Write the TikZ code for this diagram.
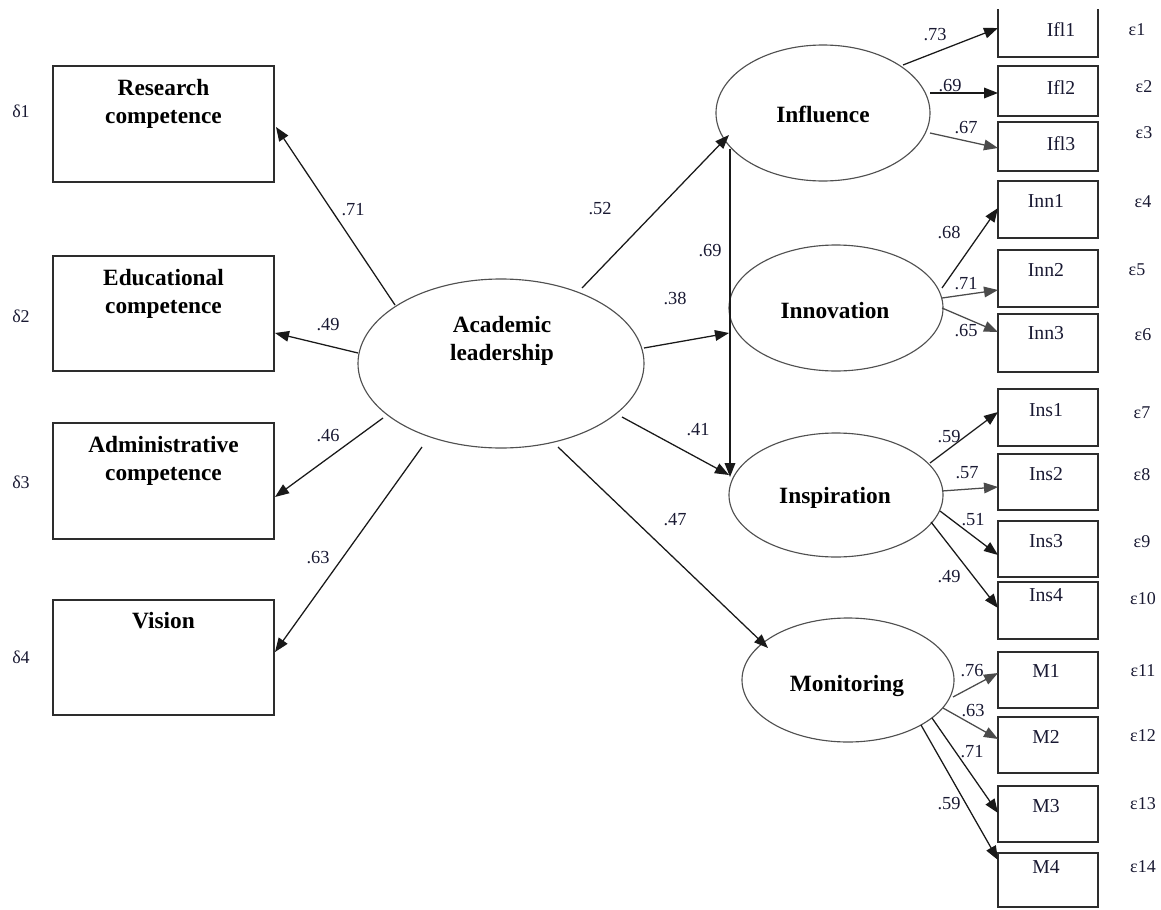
\documentclass[tikz,border=0pt]{standalone}
\usepackage{fontspec}
\setmainfont{Liberation Serif}
\usetikzlibrary{arrows.meta,shapes.geometric}
\definecolor{ink}{RGB}{25,25,50}
\definecolor{boxline}{RGB}{45,45,45}
\definecolor{ellline}{RGB}{80,80,80}
\definecolor{darkarr}{RGB}{25,25,25}
\definecolor{grayarr}{RGB}{75,75,75}
\begin{document}
\begin{tikzpicture}[x=0.75pt,y=-0.75pt,
  lbox/.style={draw=boxline,line width=1pt,rectangle,inner sep=0pt,outer sep=0pt,minimum width=165.75pt},
  rbox/.style={draw=boxline,line width=1pt,rectangle,inner sep=0pt,outer sep=0pt,minimum width=75pt},
  latent/.style={draw=ellline,line width=0.85pt,ellipse,inner sep=0pt,outer sep=0pt},
  bold/.style={font=\fontsize{17.5}{21}\selectfont\bfseries,align=center,inner sep=0pt,text=black},
  itemtxt/.style={font=\fontsize{14.8}{17}\selectfont,inner sep=0pt,text=ink},
  coef/.style={font=\fontsize{13.8}{16}\selectfont,inner sep=0pt,text=ink},
  err/.style={font=\fontsize{13.5}{16}\selectfont,inner sep=0pt,text=ink},
  arr/.style={draw=darkarr,line width=0.95pt,-{Triangle[length=10.5pt,width=8pt]}},
  garr/.style={draw=grayarr,line width=0.95pt,-{Triangle[length=10.5pt,width=8pt]}}]
\useasboundingbox (0,0) rectangle (1161,910);

% ---------- left observed boxes ----------
\node[lbox,minimum height=87pt] (research) at (163.5,124) {};
\node[lbox,minimum height=86.25pt] (edu) at (163.5,313.5) {};
\node[lbox,minimum height=87pt] (admin) at (163.5,481) {};
\node[lbox,minimum height=86.25pt] (vision) at (163.5,657.5) {};
\node[bold] (tresearch) at (163.5,104) {Research\\competence};
\node[bold] (tedu) at (163.5,294) {Educational\\competence};
\node[bold] (tadmin) at (163.5,461) {Administrative\\competence};
\node[bold] (tvision) at (163.5,621) {Vision};
\node[err] (d1) at (21,111) {δ1};
\node[err] (d2) at (21,316) {δ2};
\node[err] (d3) at (21,482) {δ3};
\node[err] (d4) at (21,657) {δ4};

% ---------- latent ellipses ----------
\node[latent,minimum width=214.5pt,minimum height=126.75pt] (acad) at (501,363.5) {};
\node[bold] (tacad) at (502,341) {Academic\\leadership};
\node[latent,minimum width=160.5pt,minimum height=102pt] (infl) at (823,113) {};
\node[bold] (tinfl) at (823,114) {Influence};
\node[latent,minimum width=160.5pt,minimum height=94.5pt] (innov) at (836,308) {};
\node[bold] (tinnov) at (835,311) {Innovation};
\node[latent,minimum width=160.5pt,minimum height=93pt] (insp) at (836,495) {};
\node[bold] (tinsp) at (835,498) {Inspiration};
\node[latent,minimum width=159pt,minimum height=93pt] (monit) at (848,680) {};
\node[bold] (tmonit) at (847,686) {Monitoring};

% ---------- right observed boxes ----------
\node[rbox,draw=none,minimum height=36pt] (ifl1) at (1048,33) {};
\draw[boxline,line width=1pt] (ifl1.north west) -- (ifl1.south west) -- (ifl1.south east) -- (ifl1.north east);
\node[rbox,minimum height=37.5pt] (ifl2) at (1048,91) {};
\node[rbox,minimum height=36.75pt] (ifl3) at (1048,146.5) {};
\node[rbox,minimum height=42.75pt] (inn1) at (1048,209.5) {};
\node[rbox,minimum height=42.75pt] (inn2) at (1048,278.5) {};
\node[rbox,minimum height=43.5pt] (inn3) at (1048,343) {};
\node[rbox,minimum height=42.75pt] (ins1) at (1048,417.5) {};
\node[rbox,minimum height=42pt] (ins2) at (1048,482) {};
\node[rbox,minimum height=42pt] (ins3) at (1048,549) {};
\node[rbox,minimum height=42.75pt] (ins4) at (1048,610.5) {};
\node[rbox,minimum height=42pt] (m1) at (1048,680) {};
\node[rbox,minimum height=42pt] (m2) at (1048,745) {};
\node[rbox,minimum height=42pt] (m3) at (1048,814) {};
\node[rbox,minimum height=40.5pt] (m4) at (1048,880) {};

\node[itemtxt] (tifl1) at (1061,30) {Ifl1};
\node[itemtxt] (tifl2) at (1061,88) {Ifl2};
\node[itemtxt] (tifl3) at (1061,144) {Ifl3};
\node[itemtxt] (tinn1) at (1046,201) {Inn1};
\node[itemtxt] (tinn2) at (1046,270) {Inn2};
\node[itemtxt] (tinn3) at (1046,333) {Inn3};
\node[itemtxt] (tins1) at (1046,410) {Ins1};
\node[itemtxt] (tins2) at (1046,474) {Ins2};
\node[itemtxt] (tins3) at (1046,541) {Ins3};
\node[itemtxt] (tins4) at (1046,595) {Ins4};
\node[itemtxt] (tm1) at (1046,671) {M1};
\node[itemtxt] (tm2) at (1046,737) {M2};
\node[itemtxt] (tm3) at (1046,806) {M3};
\node[itemtxt] (tm4) at (1046,867) {M4};

\node[err] (e1) at (1137,30) {ε1};
\node[err] (e2) at (1144,87) {ε2};
\node[err] (e3) at (1144,133) {ε3};
\node[err] (e4) at (1143,202) {ε4};
\node[err] (e5) at (1137,270) {ε5};
\node[err] (e6) at (1143,335) {ε6};
\node[err] (e7) at (1142,413) {ε7};
\node[err] (e8) at (1142,475) {ε8};
\node[err] (e9) at (1142,542) {ε9};
\node[err] (e10) at (1143,599) {ε10};
\node[err] (e11) at (1143,671) {ε11};
\node[err] (e12) at (1143,736) {ε12};
\node[err] (e13) at (1143,804) {ε13};
\node[err] (e14) at (1143,867) {ε14};

% ---------- structural paths ----------
\draw[arr] ([shift={(-106,-58.5)}]acad.center) -- ([shift={(2,3)}]research.east);
\draw[arr] ([shift={(-143,-10.5)}]acad.center) -- ([shift={(1,19.5)}]edu.east);
\draw[arr] ([shift={(-118,54.5)}]acad.center) -- ([shift={(1,16)}]admin.east);
\draw[arr] ([shift={(-79,83.5)}]acad.center) -- ([shift={(1,-5.5)}]vision.east);
\draw[arr] ([shift={(81,-75.5)}]acad.center) -- ([shift={(-94,22)}]infl.center);
\draw[arr] ([shift={(143,-15.5)}]acad.center) -- ([shift={(-107,25)}]innov.center);
\draw[arr] ([shift={(121,53.5)}]acad.center) -- ([shift={(-107,-20)}]insp.center);
\draw[arr] ([shift={(57,83.5)}]acad.center) -- ([shift={(-80,-32)}]monit.center);
\draw[arr] ([shift={(-93,36)}]infl.center) -- ([shift={(-106,-18)}]insp.center);

\node[coef] (c71) at (353,210) {.71};
\node[coef] (c49) at (328,325) {.49};
\node[coef] (c46) at (328,436) {.46};
\node[coef] (c63) at (318,558) {.63};
\node[coef] (c52) at (600,209) {.52};
\node[coef] (c69v) at (710,251) {.69};
\node[coef] (c38) at (675,299) {.38};
\node[coef] (c41) at (698,430) {.41};
\node[coef] (c47) at (675,520) {.47};

% ---------- measurement paths ----------
\draw[arr]  ([shift={(80,-48)}]infl.center) -- ([shift={(0,-5)}]ifl1.west);
\draw[arr]  ([shift={(107,-20)}]infl.center) -- ([shift={(0,2)}]ifl2.west);
\draw[garr] ([shift={(107,20)}]infl.center) -- ([shift={(0,1.5)}]ifl3.west);
\draw[arr]  ([shift={(106,-20)}]innov.center) -- ([shift={(0,-1.5)}]inn1.west);
\draw[garr] ([shift={(106,-10)}]innov.center) -- ([shift={(0,11.5)}]inn2.west);
\draw[garr] ([shift={(106,0)}]innov.center) -- ([shift={(0,-11)}]inn3.west);
\draw[arr]  ([shift={(94,-32)}]insp.center) -- ([shift={(0,-5.5)}]ins1.west);
\draw[garr] ([shift={(106,-4)}]insp.center) -- ([shift={(0,5)}]ins2.west);
\draw[arr]  ([shift={(104,16)}]insp.center) -- ([shift={(0,6)}]ins3.west);
\draw[arr]  ([shift={(95,27)}]insp.center) -- ([shift={(0,-2.5)}]ins4.west);
\draw[garr] ([shift={(105,17)}]monit.center) -- ([shift={(0,-7)}]m1.west);
\draw[garr] ([shift={(95,28)}]monit.center) -- ([shift={(0,-6)}]m2.west);
\draw[arr]  ([shift={(84,38)}]monit.center) -- ([shift={(0,-1)}]m3.west);
\draw[arr]  ([shift={(73,45)}]monit.center) -- ([shift={(0,-20)}]m4.west);

\node[coef] (r73) at (935,35) {.73};
\node[coef] (r69) at (950,86) {.69};
\node[coef] (r67) at (966,128) {.67};
\node[coef] (r68) at (949,233) {.68};
\node[coef] (r71) at (966,284) {.71};
\node[coef] (r65) at (966,331) {.65};
\node[coef] (r59a) at (949,437) {.59};
\node[coef] (r57) at (967,473) {.57};
\node[coef] (r51) at (973,520) {.51};
\node[coef] (r49) at (949,577) {.49};
\node[coef] (r76) at (972,671) {.76};
\node[coef] (r63) at (973,711) {.63};
\node[coef] (r71b) at (972,752) {.71};
\node[coef] (r59b) at (949,804) {.59};
\end{tikzpicture}
\end{document}
